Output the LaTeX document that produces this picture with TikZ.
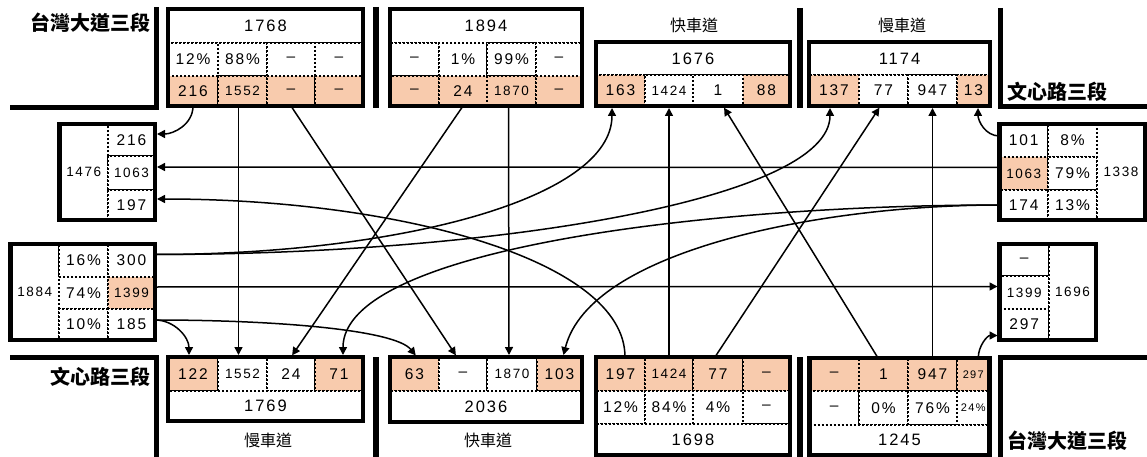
\documentclass[tikz,border=0pt]{standalone}
\usepackage{fontspec}
\setmainfont{Liberation Sans}
\newfontfamily\numfam[LetterSpace=12]{Liberation Sans}
\newfontfamily\cjk{Noto Sans CJK TC}
\usetikzlibrary{arrows.meta}
\definecolor{peach}{RGB}{248,203,173}
\newcommand\fnttot{\numfam\fontsize{16.5}{18}\selectfont}
\newcommand\fntcell{\numfam\fontsize{15.5}{17}\selectfont}
\newcommand\fntfour{\numfam\fontsize{13.5}{15}\selectfont}
\newcommand\fnttiny{\numfam\fontsize{11}{13}\selectfont}
\tikzset{
  cell/.style={draw=black, dash pattern=on 2pt off 2pt, line width=2pt,
               inner sep=0pt, outer sep=0pt, fill=#1},
  cell/.default=white,
  span/.style n args={4}{at={({(#1+#3)/2},{(#2+#4)/2})},
               minimum width={#3-#1}, minimum height={#4-#2}},
  frame/.style={draw=black, line width=4.5pt},
  road/.style={line width=5pt},
  bar/.style={line width=6pt},
  flow/.style={-{Triangle[length=8pt,width=8pt]}, line width=1.5pt, shorten >=2pt},
  roadname/.style={font=\cjk\bfseries\fontsize{20}{22}\selectfont, inner sep=0pt},
  lane/.style={font=\cjk\fontsize{16}{18}\selectfont, inner sep=0pt},
}

\begin{document}
\begin{tikzpicture}[x=1pt, y=-1pt]
\useasboundingbox (0,0) rectangle (1147,457);

% north, slow lane in
\node[cell, font=\fnttot, span={168}{9}{363}{43}] (nA) {1768};
\foreach \a/\b/\v [count=\i] in {168/218/12\%, 218/267/88\%, 267/315/–, 315/363/–}
  \node[cell, font=\fntcell, span={\a}{43}{\b}{76}] (nAp\i) {\v};
\foreach \a/\b/\v/\f [count=\i] in {168/218/216/\fntcell, 218/267/1552/\fntfour, 267/315/–/\fntcell, 315/363/–/\fntcell}
  \node[cell=peach, font=\f, span={\a}{76}{\b}{106}] (nA\i) {\v};

% north, fast lane in
\node[cell, font=\fnttot, span={390}{9}{582}{43}] (nB) {1894};
\foreach \a/\b/\v [count=\i] in {390/439/–, 439/487/1\%, 487/536/99\%, 536/582/–}
  \node[cell, font=\fntcell, span={\a}{43}{\b}{76}] (nBp\i) {\v};
\foreach \a/\b/\v/\f [count=\i] in {390/439/–/\fntcell, 439/487/24/\fntcell, 487/536/1870/\fntfour, 536/582/–/\fntcell}
  \node[cell=peach, font=\f, span={\a}{76}{\b}{106}] (nB\i) {\v};

% north, fast lane out
\node[cell, font=\fnttot, span={596}{42}{790}{75}] (nC) {1676};
\foreach \a/\b/\v/\c/\f [count=\i] in {596/645/163/peach/\fntcell, 645/693/1424/white/\fntfour, 693/743/1/white/\fntcell, 743/790/88/peach/\fntcell}
  \node[cell=\c, font=\f, span={\a}{75}{\b}{106}] (nC\i) {\v};
\node[lane] (nCl) at (694,25) {快車道};

% north, slow lane out
\node[cell, font=\fnttot, span={809}{42}{990}{75}] (nD) {1174};
\foreach \a/\b/\v/\c [count=\i] in {809/859/137/peach, 859/908/77/white, 908/957/947/white, 957/990/13/peach}
  \node[cell=\c, font=\fntcell, span={\a}{75}{\b}{106}] (nD\i) {\v};
\node[lane] (nDl) at (902,25) {慢車道};

% west out
\node[cell, font=\fntfour, span={59.5}{124}{108}{220}] (wO) {1476};
\foreach \a/\b/\v/\f [count=\i] in {124/156/216/\fntcell, 156/190/1063/\fntfour, 190/220/197/\fntcell}
  \node[cell, font=\f, span={108}{\a}{155}{\b}] (wO\i) {\v};

% west in
\node[cell, font=\fntfour, span={10.5}{244}{59}{340}] (wI) {1884};
\foreach \a/\b/\v [count=\i] in {244/277/16\%, 277/309/74\%, 309/340/10\%}
  \node[cell, font=\fntcell, span={59}{\a}{108}{\b}] (wIp\i) {\v};
\foreach \a/\b/\v/\c/\f [count=\i] in {244/277/300/white/\fntcell, 277/309/1399/peach/\fntfour, 309/340/185/white/\fntcell}
  \node[cell=\c, font=\f, span={108}{\a}{155}{\b}] (wI\i) {\v};

% east in
\foreach \a/\b/\v/\c/\f [count=\i] in {124/157/101/white/\fntcell, 157/190/1063/peach/\fntfour, 190/220/174/white/\fntcell}
  \node[cell=\c, font=\f, span={999.5}{\a}{1048}{\b}] (eI\i) {\v};
\foreach \a/\b/\v [count=\i] in {124/157/8\%, 157/190/79\%, 190/220/13\%}
  \node[cell, font=\fntcell, span={1048}{\a}{1097}{\b}] (eIp\i) {\v};
\node[cell, font=\fntfour, span={1097}{124}{1145}{220}] (eI) {1338};

% east out
\foreach \a/\b/\v/\f [count=\i] in {244/276/–/\fntcell, 276/309/1399/\fntfour, 309/340/297/\fntcell}
  \node[cell, font=\f, span={999.5}{\a}{1049}{\b}] (eO\i) {\v};
\node[cell, font=\fntfour, span={1049}{244}{1096}{340}] (eO) {1696};

% south, slow lane out
\foreach \a/\b/\v/\c/\f [count=\i] in {168/218/122/peach/\fntcell, 218/267/1552/white/\fntfour, 267/315/24/white/\fntcell, 315/363/71/peach/\fntcell}
  \node[cell=\c, font=\f, span={\a}{357}{\b}{391}] (sA\i) {\v};
\node[cell, font=\fnttot, span={168}{391}{363}{421}] (sA) {1769};
\node[lane] (sAl) at (268,440) {慢車道};

% south, fast lane out
\foreach \a/\b/\v/\c/\f [count=\i] in {390/439/63/peach/\fntcell, 439/487/–/white/\fntcell, 487/537/1870/white/\fntfour, 537/582/103/peach/\fntcell}
  \node[cell=\c, font=\f, span={\a}{357}{\b}{391}] (sB\i) {\v};
\node[cell, font=\fnttot, span={390}{391}{582}{422}] (sB) {2036};
\node[lane] (sBl) at (488,440) {快車道};

% south, fast lane in
\foreach \a/\b/\v/\f [count=\i] in {596/645/197/\fntcell, 645/693/1424/\fntfour, 693/743/77/\fntcell, 743/790/–/\fntcell}
  \node[cell=peach, font=\f, span={\a}{357}{\b}{391}] (sC\i) {\v};
\foreach \a/\b/\v [count=\i] in {596/645/12\%, 645/693/84\%, 693/743/4\%, 743/790/–}
  \node[cell, font=\fntcell, span={\a}{391}{\b}{424}] (sCp\i) {\v};
\node[cell, font=\fnttot, span={596}{424}{790}{455}] (sC) {1698};

% south, slow lane in
\foreach \a/\b/\v/\f [count=\i] in {809.5/859/–/\fntcell, 859/908/1/\fntcell, 908/957/947/\fntcell, 957/989.5/297/\fnttiny}
  \node[cell=peach, font=\f, span={\a}{358}{\b}{391}] (sD\i) {\v};
\foreach \a/\b/\v/\f [count=\i] in {809.5/859/–/\fntcell, 859/908/0\%/\fntcell, 908/957/76\%/\fntcell, 957/989.5/24\%/\fnttiny}
  \node[cell, font=\f, span={\a}{391}{\b}{425}] (sDp\i) {\v};
\node[cell, font=\fnttot, span={809.5}{425}{989.5}{455}] (sD) {1245};

% movements
\draw[flow] (nA1.south) to[out=-90, in=0] ([yshift=6pt]wO1.east);
\draw[flow] ([xshift=-4pt]nA2.south) -- ([xshift=-4pt]sA2.north);
\draw[flow] (nA3.south) -- ([xshift=-6pt]sB2.north);
\draw[flow] (nB2.south) -- (sA3.north);
\draw[flow] ([xshift=-3pt]nB3.south) -- ([xshift=-3pt]sB3.north);
\draw[flow] ([yshift=6pt]wI1.east) .. controls +(243,0) and +(0,93) .. ([xshift=-8.5pt]nC1.south);
\draw[flow] ([yshift=6pt]wI1.east) .. controls +(343,0) and +(0,93) .. ([xshift=-4pt]nD1.south);
\draw[flow] ([yshift=6pt]wI2.east) -- ([yshift=6pt]eO2.west);
\draw[flow] ([yshift=4.5pt]wI3.east) to[out=0, in=90] ([xshift=-4pt]sA1.north);
\draw[flow] ([yshift=4.5pt]wI3.east) .. controls +(123,0) and +(-22,-27) .. ([xshift=2.5pt]sB1.north);
\draw[flow] ([yshift=6pt]eI2.west) -- ([yshift=6pt]wO2.east);
\draw[flow] ([yshift=4.5pt]eI1.west) to[out=180, in=-90] ([xshift=4.5pt]nD4.south);
\draw[flow] (eI3.west) .. controls +(-298,0) and +(0,-107) .. ([xshift=4pt]sA4.north);
\draw[flow] (eI3.west) .. controls +(-178,0) and +(27,-107) .. ([xshift=3.5pt]sB4.north);
\draw[flow] ([xshift=4.5pt]sC1.north) .. controls +(0,-97) and +(243,0) .. ([yshift=6pt]wO3.east);
\draw[flow] (sC2.north) -- (nC2.south);
\draw[flow] ([xshift=-3pt]sC3.north) -- ([xshift=-3pt]nD2.south);
\draw[flow] ([xshift=-5.5pt]sD2.north) -- ([xshift=5pt]nC3.south);
\draw[flow] (sD3.north) -- (nD3.south);
\draw[flow] ([xshift=5pt]sD4.north) to[out=90, in=180] ([yshift=-11pt]eO3.west);

% box outlines
\draw[frame] (nA.north west) rectangle (nA4.south east);
\draw[frame] (nB.north west) rectangle (nB4.south east);
\draw[frame] (nC.north west) rectangle (nC4.south east);
\draw[frame] (nD.north west) rectangle (nD4.south east);
\draw[frame] (wO.north west) rectangle (wO3.south east);
\draw[frame] (wI.north west) rectangle (wI3.south east);
\draw[frame] (eI1.north west) rectangle (eI.south east);
\draw[frame] (eO1.north west) rectangle (eO.south east);
\draw[frame] (sA1.north west) rectangle (sA.south east);
\draw[frame] (sB1.north west) rectangle (sB.south east);
\draw[frame] (sC1.north west) rectangle (sC.south east);
\draw[frame] (sD1.north west) rectangle (sD.south east);

% kerbs and medians
\draw[road] (10,107.5) -- (156.5,107.5) -- (156.5,7);
\draw[bar] (376,7) -- (376,108);
\draw[bar] (800,8) -- (800,108);
\draw[road] (1000,8) -- (1000,106.5) -- (1147,106.5);
\draw[road] (10,357.5) -- (156.5,357.5) -- (156.5,457);
\draw[bar] (376,357) -- (376,457);
\draw[bar] (800,357) -- (800,457);
\draw[road] (1000,457) -- (1000,357.5) -- (1147,357.5);

\node[roadname] (rNW) at (90,23) {台灣大道三段};
\node[roadname] (rNE) at (1057,92) {文心路三段};
\node[roadname] (rSW) at (100,377) {文心路三段};
\node[roadname] (rSE) at (1067,441) {台灣大道三段};
\end{tikzpicture}
\end{document}
